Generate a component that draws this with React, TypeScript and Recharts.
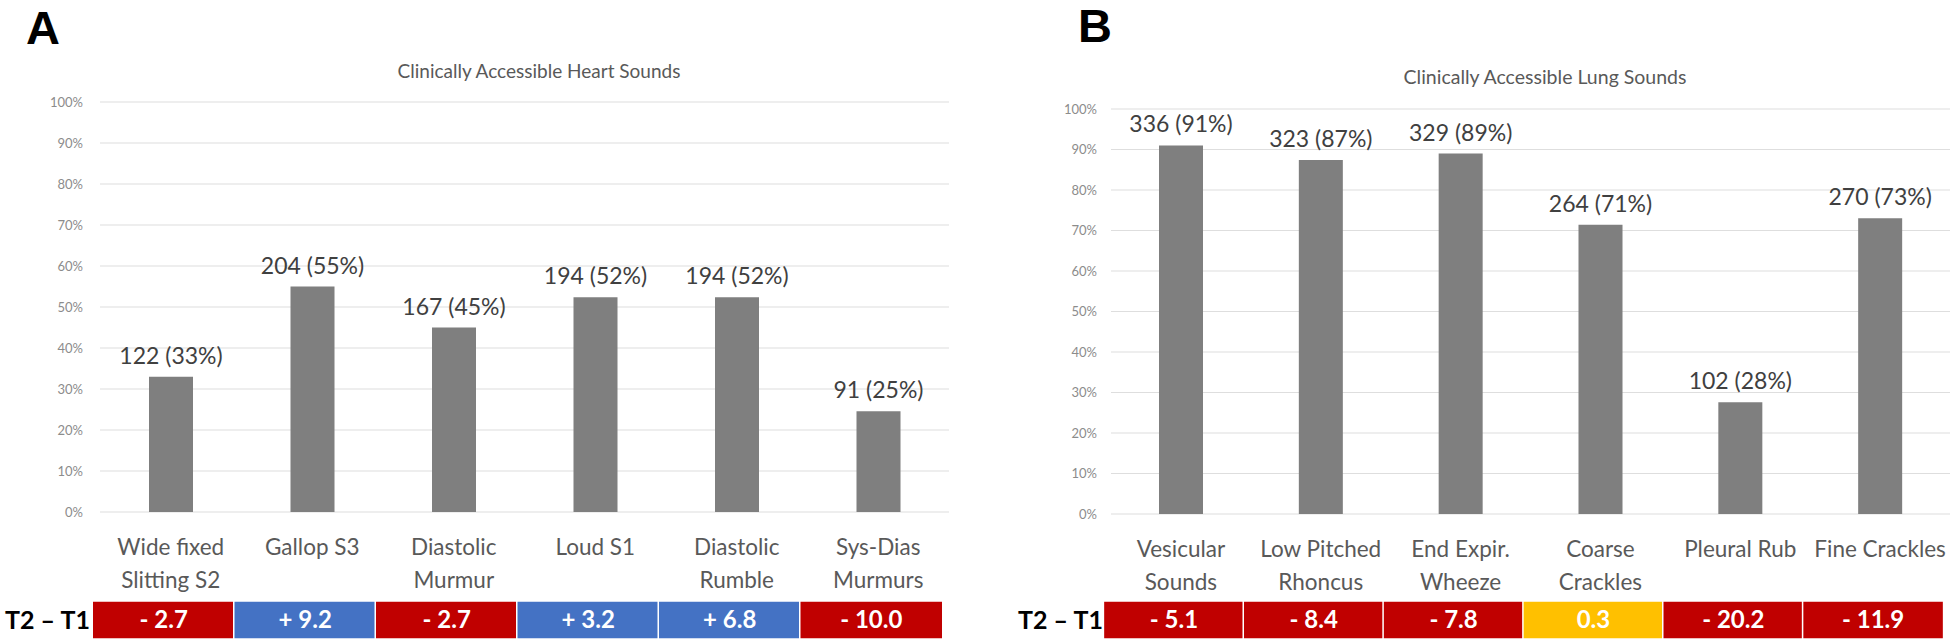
import React from 'react';
import { BarChart, Bar, XAxis, YAxis, CartesianGrid, LabelList } from 'recharts';

// ---------- data ----------
const heartCategories = ['Wide fixed Slitting S2', 'Gallop S3', 'Diastolic Murmur', 'Loud S1', 'Diastolic Rumble', 'Sys-Dias Murmurs'];
const heartTickLines = [['Wide fixed', 'Slitting S2'], ['Gallop S3'], ['Diastolic', 'Murmur'], ['Loud S1'], ['Diastolic', 'Rumble'], ['Sys-Dias', 'Murmurs']];
const heartPercent = [33, 55, 45, 52.4, 52.4, 24.6];
const heartLabels = ['122 (33%)', '204 (55%)', '167 (45%)', '194 (52%)', '194 (52%)', '91 (25%)'];
const heartChange = ['- 2.7', '+ 9.2', '- 2.7', '+ 3.2', '+ 6.8', '- 10.0'];

const lungCategories = ['Vesicular Sounds', 'Low Pitched Rhoncus', 'End Expir. Wheeze', 'Coarse Crackles', 'Pleural Rub', 'Fine Crackles'];
const lungTickLines = [['Vesicular', 'Sounds'], ['Low Pitched', 'Rhoncus'], ['End Expir.', 'Wheeze'], ['Coarse', 'Crackles'], ['Pleural Rub'], ['Fine Crackles']];
const lungPercent = [91, 87.4, 89, 71.4, 27.6, 73];
const lungLabels = ['336 (91%)', '323 (87%)', '329 (89%)', '264 (71%)', '102 (28%)', '270 (73%)'];
const lungChange = ['- 5.1', '- 8.4', '- 7.8', '0.3', '- 20.2', '- 11.9'];

const yTicks = [0, 10, 20, 30, 40, 50, 60, 70, 80, 90, 100];

// ---------- styles ----------
const FONT = 'Lato, "Open Sans", sans-serif';
const RED = '#C00000';
const BLUE = '#4472C4';
const YELLOW = '#FFC000';
const BAR = '#7f7f7f';
const GRID = '#dedede';

const changeColor = (t: string) => (t.startsWith('-') ? RED : t.startsWith('+') ? BLUE : YELLOW);

const makeCategoryTick = (cats: string[], lines: string[][]) => (props: any) => {
  const { x, y, payload } = props;
  const idx = cats.indexOf(payload.value);
  const ls = lines[idx] || [payload.value];
  return (
    <text x={x} y={y} textAnchor="middle" fill="#595959" fontSize={22.5} fontFamily={FONT}>
      {ls.map((l, i) => (
        <tspan key={i} x={x} dy={i === 0 ? 43 : 33}>
          {l}
        </tspan>
      ))}
    </text>
  );
};

const makeChangeTick = (cats: string[], changes: string[], cellW: number, shift: number) => (props: any) => {
  const { x, y, payload } = props;
  const idx = cats.indexOf(payload.value);
  const t = changes[idx];
  const top = y + 3;
  return (
    <g>
      <rect x={x - cellW / 2 + shift} y={top} width={cellW} height={38} fill={changeColor(t)} stroke="#ffffff" strokeWidth={1.5} />
      <text x={x + shift} y={top + 27} textAnchor="middle" fill="#ffffff" fontWeight="bold" fontSize={24} fontFamily={FONT}>
        {t}
      </text>
    </g>
  );
};

const BarLabel = (props: any) => {
  const { x, y, width, value } = props;
  return (
    <text x={Number(x) + Number(width) / 2} y={Number(y) - 13} textAnchor="middle" fill="#404040" fontSize={23} fontFamily={FONT}>
      {value}
    </text>
  );
};

type PanelProps = {
  cats: string[];
  lines: string[][];
  values: number[];
  labels: string[];
  changes: string[];
  width: number;
  margin: { top: number; right: number; left: number; bottom: number };
  yWidth: number;
  yMargin: number;
  catHeight: number;
  cellW: number;
  shift: number;
};

const Panel = (p: PanelProps) => {
  const data = p.cats.map((c, i) => ({ name: c, pct: p.values[i], label: p.labels[i] }));
  return (
    <BarChart width={p.width} height={641} data={data} margin={p.margin} barCategoryGap="0%">
      <CartesianGrid vertical={false} stroke={GRID} strokeWidth={1.2} />
      <XAxis
        dataKey="name"
        xAxisId="cat"
        axisLine={false}
        tickLine={false}
        tickSize={0}
        tickMargin={0}
        height={p.catHeight}
        interval={0}
        tick={makeCategoryTick(p.cats, p.lines)}
      />
      <XAxis
        dataKey="name"
        xAxisId="tbl"
        axisLine={false}
        tickLine={false}
        tickSize={0}
        tickMargin={0}
        height={41}
        interval={0}
        tick={makeChangeTick(p.cats, p.changes, p.cellW, p.shift)}
      />
      <YAxis
        domain={[0, 100]}
        ticks={yTicks}
        interval={0}
        axisLine={false}
        tickLine={false}
        tickSize={0}
        tickMargin={p.yMargin}
        width={p.yWidth}
        tickFormatter={(v: number) => `${v}%`}
        tick={{ fontSize: 13, fill: '#8c8c8c', fontFamily: FONT }}
      />
      <Bar dataKey="pct" xAxisId="cat" fill={BAR} barSize={44} isAnimationActive={false}>
        <LabelList dataKey="label" content={BarLabel} />
      </Bar>
    </BarChart>
  );
};

const abs = (s: React.CSSProperties): React.CSSProperties => ({ position: 'absolute', margin: 0, ...s });

export default function App() {
  return (
    <div style={{ position: 'absolute', left: 0, top: 0, width: 1953, height: 641, background: '#fff', overflow: 'hidden' }}>
      <div style={abs({ left: 0, top: 0 })}>
        <Panel
          cats={heartCategories}
          lines={heartTickLines}
          values={heartPercent}
          labels={heartLabels}
          changes={heartChange}
          width={1000}
          margin={{ top: 102, right: 51, left: 0, bottom: 2 }}
          yWidth={100}
          yMargin={17}
          catHeight={86}
          cellW={143}
          shift={-7}
        />
      </div>
      <div style={abs({ left: 1000, top: 0 })}>
        <Panel
          cats={lungCategories}
          lines={lungTickLines}
          values={lungPercent}
          labels={lungLabels}
          changes={lungChange}
          width={953}
          margin={{ top: 109, right: 3, left: 0, bottom: 2 }}
          yWidth={111}
          yMargin={14}
          catHeight={84}
          cellW={141}
          shift={-7}
        />
      </div>
      <div style={abs({ left: 26, top: 2, fontFamily: '"Liberation Sans", Arial, sans-serif', fontWeight: 'bold', fontSize: 47, lineHeight: '52px', color: '#000' })}>A</div>
      <div style={abs({ left: 1078, top: 0, fontFamily: '"Liberation Sans", Arial, sans-serif', fontWeight: 'bold', fontSize: 47, lineHeight: '52px', color: '#000' })}>B</div>
      <div style={abs({ left: 289, top: 59, width: 500, textAlign: 'center', fontFamily: FONT, fontSize: 19, lineHeight: '24px', color: '#595959' })}>
        Clinically Accessible Heart Sounds
      </div>
      <div style={abs({ left: 1295, top: 65, width: 500, textAlign: 'center', fontFamily: FONT, fontSize: 19.5, lineHeight: '24px', color: '#595959' })}>
        Clinically Accessible Lung Sounds
      </div>
      <div style={abs({ left: 5, top: 603, fontFamily: FONT, fontWeight: 'bold', fontSize: 25, lineHeight: '32px', color: '#000' })}>T2 – T1</div>
      <div style={abs({ left: 1018, top: 603, fontFamily: FONT, fontWeight: 'bold', fontSize: 25, lineHeight: '32px', color: '#000' })}>T2 – T1</div>
    </div>
  );
}
